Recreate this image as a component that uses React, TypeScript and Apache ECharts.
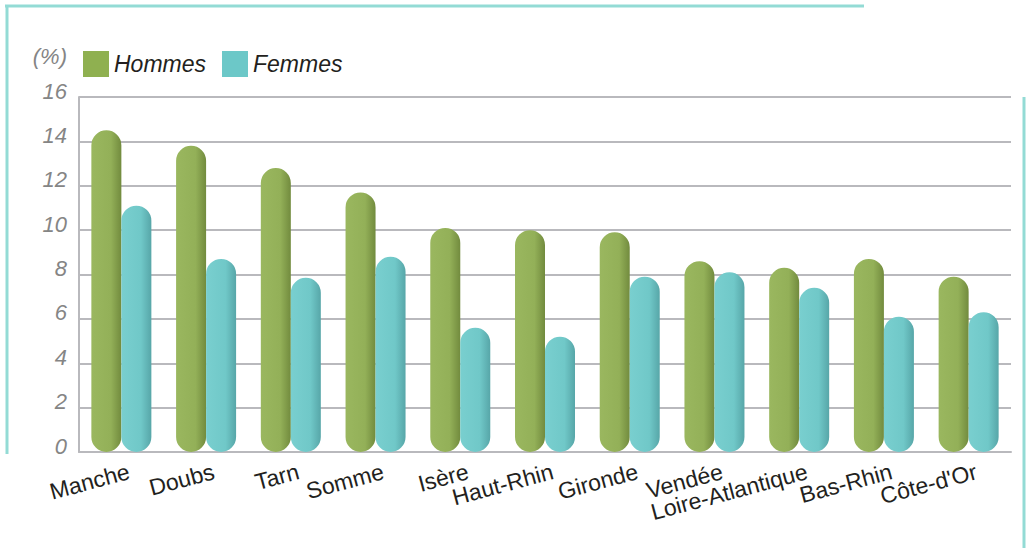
import React, { useEffect, useRef } from 'react';
import * as echarts from 'echarts';

const categories = ['Manche', 'Doubs', 'Tarn', 'Somme', 'Isère', 'Haut-Rhin', 'Gironde', 'Vendée', 'Loire-Atlantique', 'Bas-Rhin', "Côte-d'Or"];
const hommes = [14.5, 13.8, 12.8, 11.7, 10.1, 10.0, 9.9, 8.6, 8.3, 8.7, 7.9];
const femmes = [11.1, 8.7, 7.85, 8.8, 5.6, 5.2, 7.9, 8.1, 7.4, 6.1, 6.3];
const seriesNames = ['Hommes', 'Femmes'];
const yMin = 0;
const yMax = 16;
const yInterval = 2;

const FONT = '"Liberation Sans", Arial, Helvetica, sans-serif';

export default function App() {
  const ref = useRef<HTMLDivElement>(null);
  useEffect(() => {
    if (!ref.current) return;
    const chart = echarts.init(ref.current, null, { renderer: 'svg' });
    const green = new echarts.graphic.LinearGradient(0, 0, 1, 0, [
      { offset: 0, color: '#9ab75f' },
      { offset: 0.65, color: '#93b058' },
      { offset: 1, color: '#728b3e' },
    ]);
    const teal = new echarts.graphic.LinearGradient(0, 0, 1, 0, [
      { offset: 0, color: '#79cfcf' },
      { offset: 0.65, color: '#70c8c8' },
      { offset: 1, color: '#57a6a8' },
    ]);
    chart.setOption({
      animation: false,
      textStyle: { fontFamily: FONT },
      grid: { left: 79, right: 18, top: 97, bottom: 96, containLabel: false },
      legend: {
        left: 78,
        top: 46,
        itemWidth: 26,
        itemHeight: 26,
        itemGap: 16,
        icon: 'rect',
        textStyle: { fontSize: 23, fontStyle: 'italic', color: '#231f20', fontFamily: FONT, padding: [7, 0, 0, 0] },
        data: [
          { name: seriesNames[0], itemStyle: { color: '#8fb050' } },
          { name: seriesNames[1], itemStyle: { color: '#6cc8c8' } },
        ],
      },
      graphic: [
        { type: 'line', shape: { x1: 5, y1: 6, x2: 864, y2: 6 }, style: { stroke: '#93dbd5', lineWidth: 3 } },
        { type: 'line', shape: { x1: 7, y1: 5, x2: 7, y2: 454 }, style: { stroke: '#93dbd5', lineWidth: 3 } },
        { type: 'line', shape: { x1: 1024, y1: 97, x2: 1024, y2: 548 }, style: { stroke: '#93dbd5', lineWidth: 3 } },
      ],
      xAxis: {
        type: 'category',
        data: categories,
        axisLine: { show: true, lineStyle: { color: '#b9b9bd', width: 2 } },
        axisTick: { show: false },
        axisLabel: {
          interval: 0,
          rotate: 15,
          margin: 21,
          fontSize: 23,
          color: '#231f20',
          fontFamily: FONT,
          padding: [0, -8, 0, 0],
        },
      },
      yAxis: {
        type: 'value',
        min: yMin,
        max: yMax,
        interval: yInterval,
        name: '(%)',
        nameLocation: 'end',
        nameGap: 30,
        nameTextStyle: { fontSize: 22, fontStyle: 'italic', color: '#858585', align: 'right', padding: [0, 12, 0, 0], fontFamily: FONT },
        axisLine: { show: true, lineStyle: { color: '#b9b9bd', width: 2 } },
        axisTick: { show: false },
        splitLine: { show: true, lineStyle: { color: '#b9b9bd', width: 2 } },
        axisLabel: {
          fontSize: 22,
          fontStyle: 'italic',
          color: '#858585',
          margin: 12,
          fontFamily: FONT,
          verticalAlign: 'bottom',
          lineHeight: 12,
        },
      },
      series: [
        {
          name: seriesNames[0],
          type: 'bar',
          data: hommes,
          barWidth: 30,
          barGap: '0%',
          itemStyle: { color: green, borderRadius: 15 },
        },
        {
          name: seriesNames[1],
          type: 'bar',
          data: femmes,
          barWidth: 30,
          barGap: '0%',
          itemStyle: { color: teal, borderRadius: 15 },
        },
      ],
    });
    return () => chart.dispose();
  }, []);
  return <div ref={ref} style={{ position: 'fixed', left: 0, top: 0, width: 1029, height: 548, background: '#fff' }} />;
}
